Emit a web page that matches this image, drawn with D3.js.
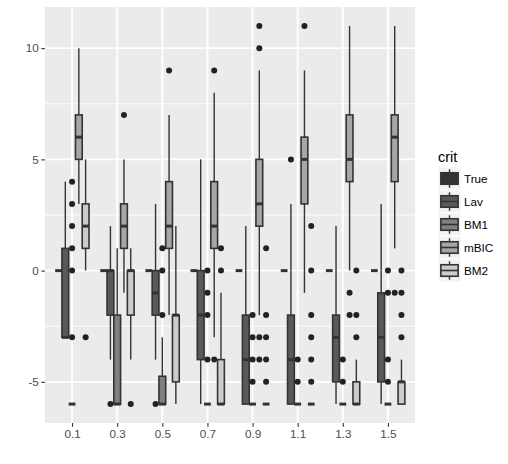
<!DOCTYPE html>
<html>
<head>
<meta charset="utf-8">
<script src="https://cdn.jsdelivr.net/npm/d3@7"></script>
<style>
  body { margin: 0; background: #fff; }
  text { font-family: "Liberation Sans", Arial, sans-serif; }
</style>
</head>
<body>
<div id="chart"></div>
<script>
var categories = ["0.1", "0.3", "0.5", "0.7", "0.9", "1.1", "1.3", "1.5"];
var groups = ["True", "Lav", "BM1", "mBIC", "BM2"];
var yTicks = [-5, 0, 5, 10];
var yMinor = [-2.5, 2.5, 7.5];

// box stats per category: [lower whisker, q1, median, q3, upper whisker]
var statsTrue = [[0,0,0,0,0],[0,0,0,0,0],[0,0,0,0,0],[0,0,0,0,0],[0,0,0,0,0],[0,0,0,0,0],[0,0,0,0,0],[0,0,0,0,0]];
var statsLav = [[-3,-3,-3,1,4],[-4,-2,0,0,2],[-4,-2,-1,0,3],[-6,-4,-2,0,5],[-6,-6,-4,-2,2],[-6,-6,-4,-2,3],[-6,-5,-3,-2,2],[-6,-5,-3,-1,3]];
var statsBM1 = [[-6,-6,-6,-6,-6],[-6,-6,-6,-2,1],[-6,-6,-6,-4.75,-3],[-6,-6,-6,-6,-6],[-6,-6,-6,-6,-6],[-6,-6,-6,-6,-6],[-6,-6,-6,-6,-6],[-6,-6,-6,-6,-6]];
var statsMBIC = [[3,5,6,7,10],[-1,1,2,3,5],[-2,1,2,4,7],[-3,1,2,4,8],[-2,2,3,5,9],[-1,3,5,6,9],[0,4,5,7,11],[1,4,6,7,11]];
var statsBM2 = [[0,1,2,3,5],[-4,-2,0,0,1],[-6,-5,-2,-2,2],[-6,-6,-6,-4,-1],[-6,-6,-6,-6,-6],[-6,-6,-6,-6,-6],[-6,-6,-6,-5,-4],[-6,-6,-5,-5,-4]];

// outliers per category
var outTrue = [[],[],[],[],[],[],[],[]];
var outLav = [[],[-6],[-6],[],[],[5],[],[]];
var outBM1 = [[4,3,2,1,0,-3],[],[1,0,-2],[0,-1,-2,-4],[-2,-3,-4,-5],[-4,-5],[-4,-5],[0,-1,-4,-5]];
var outMBIC = [[],[7],[9],[9,-4],[11,10,-3,-4],[11],[-1,-2],[-1]];
var outBM2 = [[-3],[-6],[],[1,0],[1,-2,-3,-4,-5],[2,0,-2,-3,-4,-5],[0,-2,-3],[0,-1,-2,-3]];

var fills = {"True": "#333333", "Lav": "#595959", "BM1": "#808080", "mBIC": "#a6a6a6", "BM2": "#cccccc"};

var allStats = {"True": statsTrue, "Lav": statsLav, "BM1": statsBM1, "mBIC": statsMBIC, "BM2": statsBM2};
var allOut = {"True": outTrue, "Lav": outLav, "BM1": outBM1, "mBIC": outMBIC, "BM2": outBM2};

var width = 508, height = 464;
var panel = {left: 45, right: 415, top: 7, bottom: 423};

var svg = d3.select("#chart").append("svg")
  .attr("width", width)
  .attr("height", height);

var x = d3.scalePoint()
  .domain(categories)
  .range([panel.left, panel.right])
  .padding(0.6);

var xg = d3.scaleBand()
  .domain(groups)
  .range([-0.375 * x.step(), 0.375 * x.step()]);

var y = d3.scaleLinear()
  .domain([-6.85, 11.85])
  .range([panel.bottom, panel.top]);

// panel + grid
svg.append("rect")
  .attr("x", panel.left).attr("y", panel.top)
  .attr("width", panel.right - panel.left)
  .attr("height", panel.bottom - panel.top)
  .attr("fill", "#ebebeb");

svg.append("g").selectAll("line")
  .data(yMinor).enter().append("line")
  .attr("x1", panel.left).attr("x2", panel.right)
  .attr("y1", d => y(d)).attr("y2", d => y(d))
  .attr("stroke", "#fff").attr("stroke-width", 0.9);

svg.append("g").selectAll("line")
  .data(yTicks).enter().append("line")
  .attr("x1", panel.left).attr("x2", panel.right)
  .attr("y1", d => y(d)).attr("y2", d => y(d))
  .attr("stroke", "#fff").attr("stroke-width", 1.9);

svg.append("g").selectAll("line")
  .data(categories).enter().append("line")
  .attr("x1", d => x(d)).attr("x2", d => x(d))
  .attr("y1", panel.top).attr("y2", panel.bottom)
  .attr("stroke", "#fff").attr("stroke-width", 1.9);

// axes
var yAxis = svg.append("g")
  .attr("transform", "translate(" + panel.left + ",0)")
  .call(d3.axisLeft(y).tickValues(yTicks).tickSize(3.7).tickPadding(2.5).tickFormat(d => String(d)));
var xAxis = svg.append("g")
  .attr("transform", "translate(0," + panel.bottom + ")")
  .call(d3.axisBottom(x).tickSize(3.7).tickPadding(2.5));

[yAxis, xAxis].forEach(function(a) {
  a.select(".domain").remove();
  a.selectAll(".tick line").attr("stroke", "#333333").attr("stroke-width", 1.1);
  a.selectAll(".tick text").attr("fill", "#4d4d4d").style("font-size", "11.7px")
    .style("font-family", "'Liberation Sans', Arial, sans-serif");
});

// boxes
var plot = svg.append("g");
var bw = xg.bandwidth();

categories.forEach(function(cat, i) {
  groups.forEach(function(grp) {
    var s = allStats[grp][i];
    var cx = x(cat) + xg(grp) + bw / 2;
    var g = plot.append("g");

    g.append("line")
      .attr("x1", cx).attr("x2", cx)
      .attr("y1", y(s[3])).attr("y2", y(s[4]))
      .attr("stroke", "#333333").attr("stroke-width", 1.4);
    g.append("line")
      .attr("x1", cx).attr("x2", cx)
      .attr("y1", y(s[1])).attr("y2", y(s[0]))
      .attr("stroke", "#333333").attr("stroke-width", 1.4);

    g.append("rect")
      .attr("x", cx - bw / 2)
      .attr("y", y(s[3]))
      .attr("width", bw)
      .attr("height", y(s[1]) - y(s[3]))
      .attr("fill", fills[grp])
      .attr("stroke", "#333333")
      .attr("stroke-width", 1.6);

    g.append("line")
      .attr("x1", cx - bw / 2).attr("x2", cx + bw / 2)
      .attr("y1", y(s[2])).attr("y2", y(s[2]))
      .attr("stroke", "#333333").attr("stroke-width", 3);

    g.selectAll("circle")
      .data(allOut[grp][i]).enter().append("circle")
      .attr("cx", cx)
      .attr("cy", d => y(d))
      .attr("r", 3)
      .attr("fill", "#222222");
  });
});

// legend
var legend = svg.append("g").attr("transform", "translate(438,0)");
var keySize = 23, keyTop = 167;

legend.append("text")
  .attr("x", 0).attr("y", 157)
  .attr("dominant-baseline", "central")
  .style("font-size", "14.5px")
  .attr("fill", "#000")
  .text("crit");

groups.forEach(function(grp, i) {
  var ky = keyTop + i * keySize;
  var k = legend.append("g").attr("transform", "translate(0," + ky + ")");
  k.append("rect")
    .attr("width", keySize).attr("height", keySize)
    .attr("fill", "#f2f2f2").attr("stroke", "#fff").attr("stroke-width", 1);
  k.append("line")
    .attr("x1", keySize / 2).attr("x2", keySize / 2)
    .attr("y1", keySize * 0.1).attr("y2", keySize * 0.9)
    .attr("stroke", "#333333").attr("stroke-width", 1.4);
  k.append("rect")
    .attr("x", keySize * 0.125).attr("y", keySize * 0.25)
    .attr("width", keySize * 0.75).attr("height", keySize * 0.5)
    .attr("fill", fills[grp]).attr("stroke", "#333333").attr("stroke-width", 1.6);
  k.append("line")
    .attr("x1", keySize * 0.125).attr("x2", keySize * 0.875)
    .attr("y1", keySize / 2).attr("y2", keySize / 2)
    .attr("stroke", "#333333").attr("stroke-width", 1.6);
  k.append("text")
    .attr("x", keySize + 3).attr("y", keySize / 2)
    .attr("dominant-baseline", "central")
    .style("font-size", "11.7px")
    .attr("fill", "#000")
    .text(grp);
});
</script>
</body>
</html>
